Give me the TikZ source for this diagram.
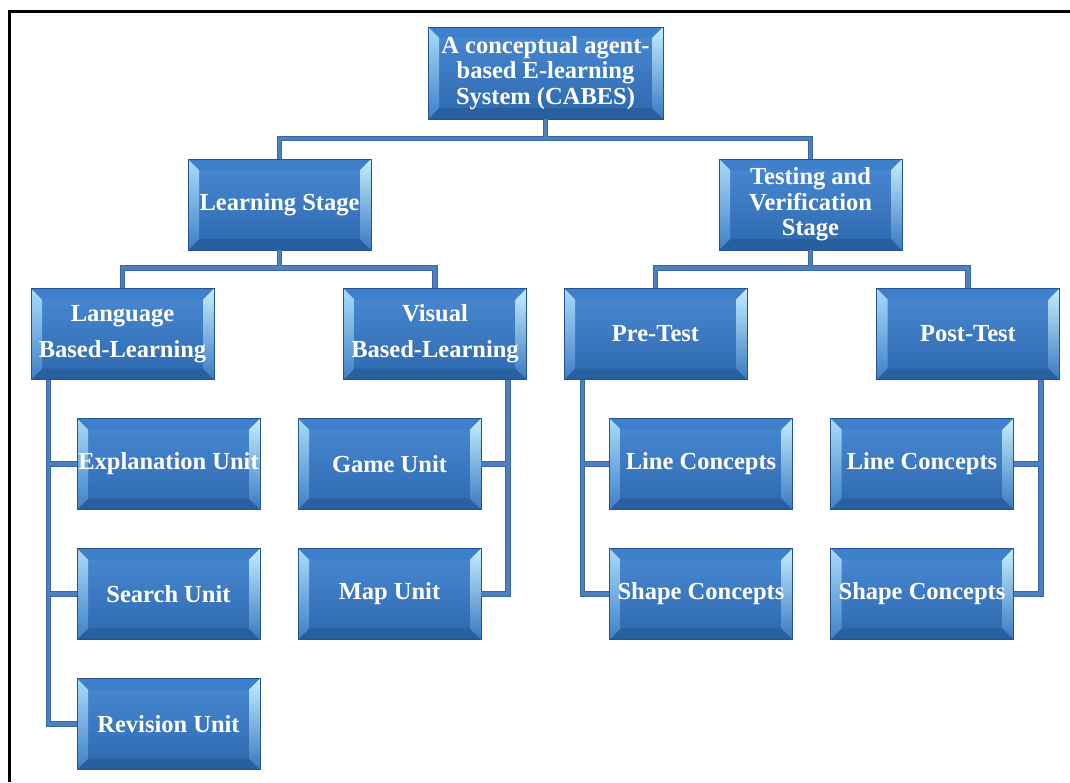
\documentclass[tikz,border=0pt]{standalone}
\usepackage{fontspec}
\setmainfont{Liberation Serif}
\definecolor{facetop}{HTML}{4A8AD4}
\definecolor{facebot}{HTML}{2D68AE}
\definecolor{boxedge}{HTML}{24548F}
\definecolor{bevlt}{HTML}{A9DCFA}
\definecolor{bevlb}{HTML}{3F7FC8}
\definecolor{bevrt}{HTML}{C4EEFE}
\definecolor{bevrb}{HTML}{3A79C2}
\definecolor{bevtop}{HTML}{3F80CC}
\definecolor{bevbot}{HTML}{28609F}
\definecolor{connout}{HTML}{3B67A0}
\definecolor{connin}{HTML}{4D80C0}
\tikzset{
  unit/.style={rectangle, draw=boxedge, line width=0.8pt, fill=facebot,
    minimum width=183pt, minimum height=91pt, inner sep=0pt,
    text=white, font=\bfseries\fontsize{24.5}{25.5}\selectfont, align=center,
    path picture={
      \path (path picture bounding box.south west) coordinate (@sw)
            (path picture bounding box.north east) coordinate (@ne)
            (path picture bounding box.north west) coordinate (@nw)
            (path picture bounding box.south east) coordinate (@se)
            ([shift={(11pt,11pt)}]path picture bounding box.south west) coordinate (@isw)
            ([shift={(-11pt,-11pt)}]path picture bounding box.north east) coordinate (@ine)
            ([shift={(11pt,-11pt)}]path picture bounding box.north west) coordinate (@inw)
            ([shift={(-11pt,11pt)}]path picture bounding box.south east) coordinate (@ise);
      \shade[top color=facetop, bottom color=facebot] (@sw) rectangle (@ne);
      \fill[bevtop] (@nw) -- (@ne) -- (@ine) -- (@inw) -- cycle;
      \fill[bevbot] (@sw) -- (@se) -- (@ise) -- (@isw) -- cycle;
      \shade[top color=bevlt, bottom color=bevlb] (@sw) -- (@nw) -- (@inw) -- (@isw) -- cycle;
      \shade[top color=bevrt, bottom color=bevrb] (@se) -- (@ne) -- (@ine) -- (@ise) -- cycle;
    }},
  twoline/.style={font=\bfseries\fontsize{24.5}{36}\selectfont},
  connouter/.style={color=connout, line width=5.5pt, line join=miter},
  conninner/.style={color=connin, line width=3.6pt, line join=miter},
  frame/.style={line width=3pt, black}
}
\begin{document}
\begin{tikzpicture}[x=1pt, y=-1pt]
\useasboundingbox (0,0) rectangle (1070,782);
\draw[frame] (9,782) -- (9,11) -- (1070,11);

% nodes
\node[unit, minimum width=235pt, minimum height=92pt] (root) at (545.5,73) {A conceptual agent-\\based E-learning\\System (CABES)};
\node[unit] (learn) at (279.5,204.5) {Learning Stage};
\node[unit] (test) at (810.5,204.5) {Testing and\\Verification\\Stage};
\node[unit, twoline] (lang) at (122.5,334) {Language\\Based-Learning};
\node[unit, twoline] (visual) at (435,334) {Visual\\Based-Learning};
\node[unit] (pre) at (655.5,334) {Pre-Test};
\node[unit] (post) at (968,334) {Post-Test};
\node[unit] (expl) at (168.5,464) {Explanation Unit};
\node[unit] (search) at (168.5,594) {Search Unit};
\node[unit] (revision) at (168.5,724) {Revision Unit};
\node[unit] (game) at (389.5,464) {Game Unit};
\node[unit] (map) at (389.5,594) {Map Unit};
\node[unit] (preline) at (701,464) {Line Concepts};
\node[unit] (preshape) at (701,594) {Shape Concepts};
\node[unit] (postline) at (922,464) {Line Concepts};
\node[unit] (postshape) at (922,594) {Shape Concepts};

\coordinate (langbus) at ([xshift=18pt]lang.south west);
\coordinate (visbus) at ([xshift=-19pt]visual.south east);
\coordinate (prebus) at ([xshift=19pt]pre.south west);
\coordinate (postbus) at ([xshift=-19pt]post.south east);

\newcommand\connpaths{%
  \draw (root.south) -- ++(0,20);
  \draw (learn.north) -- ++(0,-20) -| (test.north);
  \draw (learn.south) -- ++(0,18);
  \draw (lang.north) -- ++(0,-20) -| (visual.north);
  \draw (test.south) -- ++(0,18);
  \draw (pre.north) -- ++(0,-20) -| (post.north);
  \draw (langbus) |- (revision.west);
  \draw (expl.west) -- (expl.west -| langbus);
  \draw (search.west) -- (search.west -| langbus);
  \draw (visbus) |- (map.east);
  \draw (game.east) -- (game.east -| visbus);
  \draw (prebus) |- (preshape.west);
  \draw (preline.west) -- (preline.west -| prebus);
  \draw (postbus) |- (postshape.east);
  \draw (postline.east) -- (postline.east -| postbus);
}
\begin{scope}[connouter]\connpaths\end{scope}
\begin{scope}[conninner]\connpaths\end{scope}
\end{tikzpicture}
\end{document}
